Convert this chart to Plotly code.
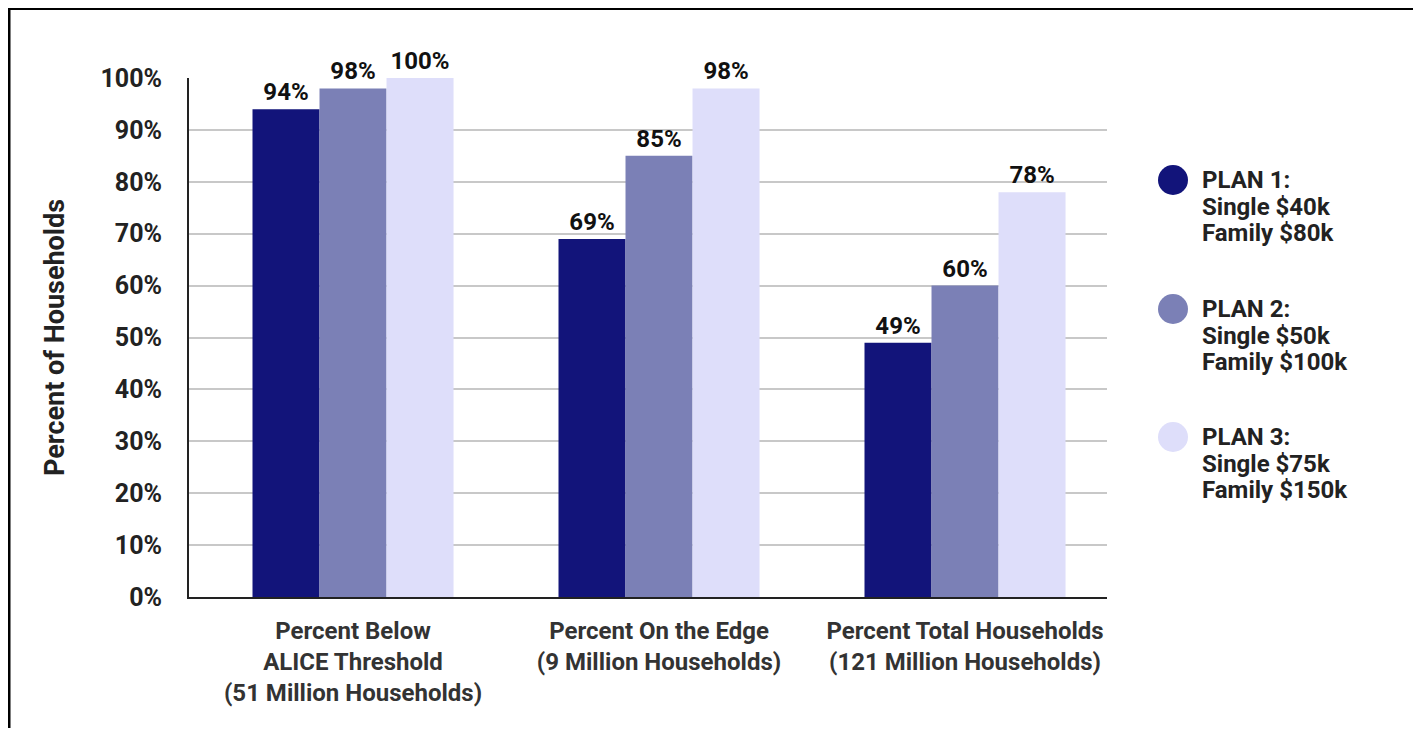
import plotly.graph_objects as go

categories = ["Percent Below<br>ALICE Threshold<br>(51 Million Households)",
              "Percent On the Edge<br>(9 Million Households)",
              "Percent Total Households<br>(121 Million Households)"]
plan_names = ["PLAN 1", "PLAN 2", "PLAN 3"]
plan_lines = [["PLAN 1:", "Single $40k", "Family $80k"],
              ["PLAN 2:", "Single $50k", "Family $100k"],
              ["PLAN 3:", "Single $75k", "Family $150k"]]
plan1 = [94, 69, 49]
plan2 = [98, 85, 60]
plan3 = [100, 98, 78]
colors = ["#12147a", "#7b80b6", "#dedefa"]
tick_vals = list(range(0, 101, 10))
tick_text = [f"{v}%" for v in tick_vals]

# page body has an 8px margin; work in page pixel coordinates, then shift
OFF = 8
W, H = 1421 - 2 * OFF, 736 - 2 * OFF
L, R, T, B = 189 - OFF, 1107 - OFF, 78 - OFF, 597 - OFF
pw, ph = R - L, B - T

def px_x(x):
    return (x - OFF - L) / pw

def px_y(y):
    return (B - (y - OFF)) / ph

FONT = "Roboto"
TXT = "#222222"
fig = go.Figure()
for name, vals, col in zip(plan_names, [plan1, plan2, plan3], colors):
    fig.add_trace(go.Bar(
        x=categories, y=vals, name=name, marker=dict(color=col, line=dict(width=0)),
        text=[f"{v}%" for v in vals], textposition="outside", cliponaxis=False,
        textfont=dict(family=FONT, size=24, color="#111111", weight="bold"),
        showlegend=False,
    ))

fig.update_layout(
    width=W, height=H, autosize=False,
    margin=dict(l=L, r=W - R, t=T, b=H - B, pad=0),
    paper_bgcolor="white", plot_bgcolor="white",
    barmode="group", bargap=0.343, bargroupgap=0,
    font=dict(family=FONT, color=TXT),
    xaxis=dict(range=[-0.536, 2.464], showgrid=False, showline=True,
               linecolor="#222222", linewidth=2,
               tickfont=dict(family=FONT, size=24, color="#333333", weight="bold"),
               ticks="", ticklen=0, ticklabelstandoff=11),
    yaxis=dict(range=[0, 100], tickvals=tick_vals, ticktext=tick_text,
               showgrid=True, gridcolor="#c8c8c8", gridwidth=2,
               showline=True, linecolor="#222222", linewidth=2, zeroline=False,
               ticks="", ticklen=0, ticklabelstandoff=20,
               tickfont=dict(family=FONT, size=25, color=TXT, weight="bold"),
               title=dict(text="Percent of Households", standoff=28,
                          font=dict(family=FONT, size=27, color=TXT, weight="bold"))),
)

# legend drawn as circles + labels
circle_y = [180, 309, 437]
line_gap = 26.5
shapes = []
annotations = []
r = 15
for lines, col, cy in zip(plan_lines, colors, circle_y):
    shapes.append(dict(type="circle", xref="paper", yref="paper",
                       x0=px_x(1173 - r), x1=px_x(1173 + r),
                       y0=px_y(cy + r), y1=px_y(cy - r),
                       fillcolor=col, line=dict(width=0)))
    for i, ln in enumerate(lines):
        annotations.append(dict(xref="paper", yref="paper", x=px_x(1200), y=px_y(cy + i * line_gap),
                                xanchor="left", yanchor="middle", align="left", showarrow=False,
                                text=ln, font=dict(family=FONT, size=24, color=TXT, weight="bold")))

# outer border (left, top, right)
bx0, bx1, by0, by1 = px_x(9), px_x(1415), px_y(8.5), px_y(760)
shapes.append(dict(type="path", xref="paper", yref="paper",
                   path=f"M {bx0} {by1} L {bx0} {by0} L {bx1} {by0} L {bx1} {by1}",
                   line=dict(color="black", width=3)))
fig.update_layout(shapes=shapes, annotations=annotations)

fig.write_html("out.html")
